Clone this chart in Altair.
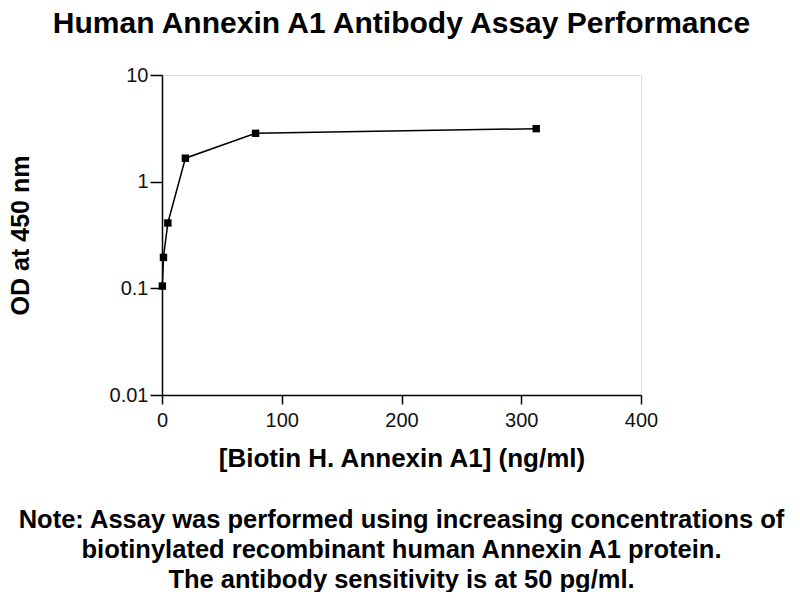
import altair as alt
import pandas as pd

concentration = [0.305, 1.22, 4.88, 19.53, 78.13, 312.5]
od450 = [0.105, 0.195, 0.41, 1.66, 2.84, 3.14]
note_lines = [
    "Note: Assay was performed using increasing concentrations of",
    "biotinylated recombinant human Annexin A1 protein.",
    "The antibody sensitivity is at 50 pg/ml.",
]

df = pd.DataFrame({"conc": concentration, "od": od450})
FONT = "Liberation Sans"

x = alt.X(
    "conc:Q",
    scale=alt.Scale(domain=[0, 400], nice=False, zero=False),
    axis=alt.Axis(
        title="[Biotin H. Annexin A1] (ng/ml)",
        values=[0, 100, 200, 300, 400],
        grid=False,
        tickSize=9,
        labelPadding=6,
        labelFlush=False,
        labelFontSize=20,
        labelFont=FONT,
        labelColor="#111",
        titleFont=FONT,
        titleFontSize=26,
        titleFontWeight="bold",
        titleColor="#000",
        titleBaseline="alphabetic",
        titleY=71,
        domainColor="#000",
        tickColor="#000",
        domainWidth=1.5,
        tickWidth=1.5,
    ),
)
y = alt.Y(
    "od:Q",
    scale=alt.Scale(type="log", domain=[0.01, 10], nice=False),
    axis=alt.Axis(
        title="OD at 450 nm",
        values=[0.01, 0.1, 1, 10],
        format="~g",
        grid=False,
        tickSize=12,
        labelPadding=2,
        labelFlush=False,
        labelFontSize=20,
        labelFont=FONT,
        labelColor="#111",
        titleFont=FONT,
        titleFontSize=25,
        titleFontWeight="bold",
        titleColor="#000",
        titleAngle=270,
        titleAlign="center",
        titleBaseline="middle",
        titleX=-142,
        titleY=160,
        domainColor="#000",
        tickColor="#000",
        domainWidth=1.5,
        tickWidth=1.5,
    ),
)

line = alt.Chart(df).mark_line(color="#000", strokeWidth=1.5).encode(x=x, y=y)
pts = alt.Chart(df).mark_point(shape="square", filled=True, color="#000", size=55, opacity=1).encode(x=x, y=y)

note = alt.Chart(pd.DataFrame({"t": [0]})).mark_text(
    text=note_lines,
    font=FONT,
    fontSize=25.5,
    fontWeight="bold",
    color="#000",
    align="center",
    baseline="alphabetic",
    lineHeight=30,
).encode(x=alt.value(239.5), y=alt.value(453))

chart = (
    alt.layer(line, pts, note)
    .properties(
        width=479,
        height=320,
        autosize=alt.AutoSizeParams(type="none"),
        padding={"left": 154, "top": 67, "right": 151, "bottom": 197},
        title=alt.TitleParams(
            "Human Annexin A1 Antibody Assay Performance",
            font=FONT,
            fontSize=30,
            fontWeight="bold",
            color="#000",
            anchor="middle",
            frame="group",
            baseline="alphabetic",
            offset=2,
        ),
    )
    .configure_view(stroke=None)
    .configure(background="white")
)

chart.save("out.html", embed_options={"renderer": "svg", "actions": False})
